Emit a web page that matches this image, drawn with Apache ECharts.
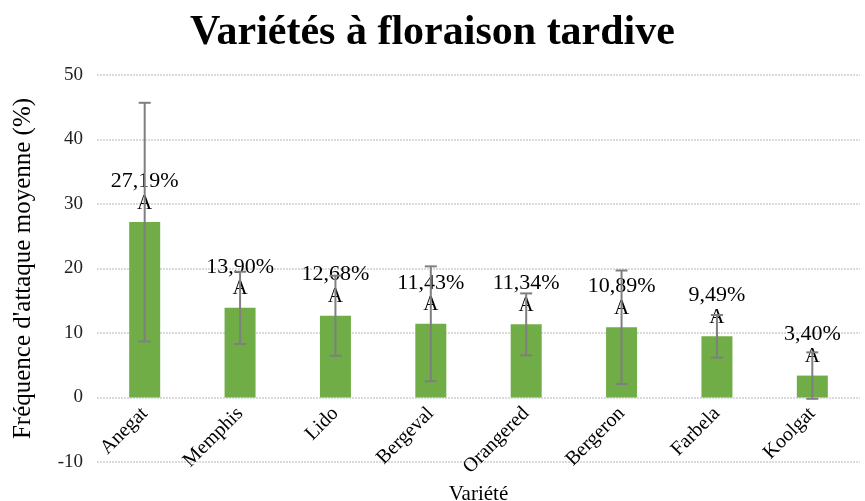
<!DOCTYPE html>
<html>
<head>
<meta charset="utf-8">
<script src="https://cdn.jsdelivr.net/npm/echarts@6/dist/echarts.min.js"></script>
<style>
  html, body { margin: 0; padding: 0; background: #fff; }
  #chart { width: 865px; height: 501px; }
</style>
</head>
<body>
<div id="chart"></div>
<script>
// données
const varietes = ['Anegat', 'Memphis', 'Lido', 'Bergeval', 'Orangered', 'Bergeron', 'Farbela', 'Koolgat'];
const moyennes = [27.19, 13.90, 12.68, 11.43, 11.34, 10.89, 9.49, 3.40];
const ecarts = [18.5, 5.6, 6.2, 8.9, 4.8, 8.8, 3.3, 3.6];
const groupes = ['A', 'A', 'A', 'A', 'A', 'A', 'A', 'A'];
const yTicks = { min: -10, max: 50, interval: 10 };

const serif = '"Liberation Serif", "DejaVu Serif", serif';

let chart = echarts.init(document.getElementById('chart'));

let errData = moyennes.map((m, i) => [i, m - ecarts[i], m + ecarts[i]]);

// hauteur de la grille / nb d'unités -> décalage de l'axe des x jusqu'au zéro
const gridTop = 75, gridBottom = 39;
const plotH = 501 - gridTop - gridBottom;
const zeroOffset = plotH * (0 - yTicks.min) / (yTicks.max - yTicks.min);

let option = {
  animation: false,
  title: {
    text: 'Variétés à floraison tardive',
    left: 'center',
    top: 7,
    textStyle: { fontFamily: serif, fontWeight: 'bold', fontSize: 42, color: '#000' }
  },
  grid: { left: 97, right: 5, top: gridTop, bottom: gridBottom, containLabel: false, outerBoundsMode: 'none' },
  xAxis: {
    type: 'category',
    data: varietes,
    name: 'Variété',
    nameLocation: 'middle',
    nameGap: 74,
    offset: -zeroOffset,
    nameTextStyle: { fontFamily: serif, fontSize: 21, color: '#000' },
    axisLine: { show: false, onZero: false },
    axisTick: { show: false },
    axisLabel: {
      rotate: 45,
      interval: 0,
      margin: 13,
      fontFamily: serif,
      fontSize: 20,
      color: '#000'
    }
  },
  yAxis: {
    type: 'value',
    min: yTicks.min,
    max: yTicks.max,
    interval: yTicks.interval,
    name: "Fréquence d'attaque moyenne (%)",
    nameLocation: 'middle',
    nameGap: 61,
    nameTextStyle: { fontFamily: serif, fontSize: 25, color: '#000' },
    axisLine: { show: false },
    axisTick: { show: false },
    axisLabel: { fontFamily: serif, fontSize: 19, color: '#222', margin: 14 },
    splitLine: { lineStyle: { color: '#d0d0d0', width: 1.5, type: [2, 1] } }
  },
  series: [
    {
      type: 'bar',
      data: moyennes,
      barWidth: 31,
      itemStyle: { color: '#70AD47' },
      label: {
        show: true,
        position: 'top',
        distance: 8,
        formatter: p => '{v|' + p.value.toFixed(2).replace('.', ',') + '%}\n{a|' + groupes[p.dataIndex] + '}',
        rich: {
          v: { fontFamily: serif, fontSize: 22, color: '#000', lineHeight: 22 },
          a: { fontFamily: serif, fontSize: 21, color: '#000', lineHeight: 22 }
        }
      },
      z: 2
    },
    {
      type: 'custom',
      data: errData,
      z: 3,
      renderItem: function (params, api) {
        let x = api.value(0);
        let lo = api.coord([x, api.value(1)]);
        let hi = api.coord([x, api.value(2)]);
        let half = 6;
        let style = { stroke: '#7f7f7f', lineWidth: 2 };
        return {
          type: 'group',
          children: [
            { type: 'line', shape: { x1: hi[0], y1: hi[1], x2: lo[0], y2: lo[1] }, style: style },
            { type: 'line', shape: { x1: hi[0] - half, y1: hi[1], x2: hi[0] + half, y2: hi[1] }, style: style },
            { type: 'line', shape: { x1: lo[0] - half, y1: lo[1], x2: lo[0] + half, y2: lo[1] }, style: style }
          ]
        };
      }
    }
  ]
};

chart.setOption(option);
</script>
</body>
</html>
